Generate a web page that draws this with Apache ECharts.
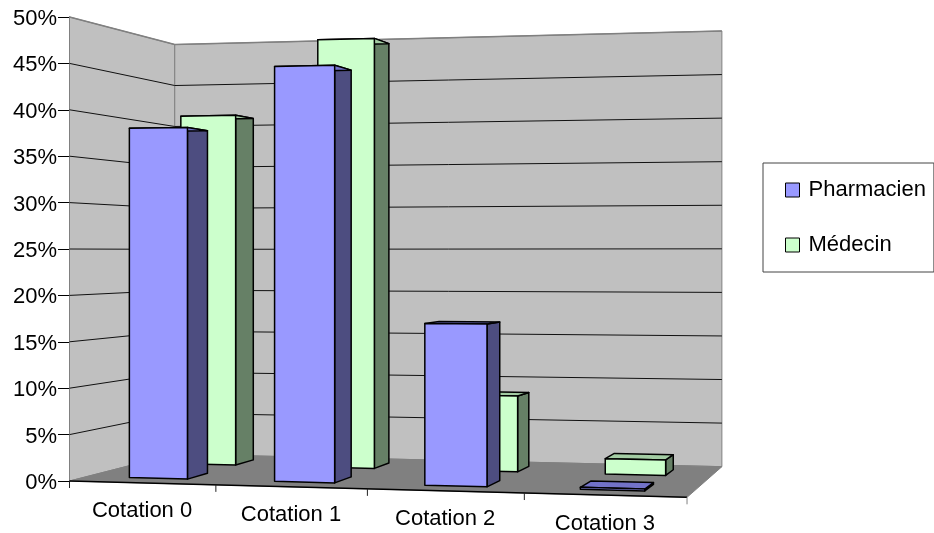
<!DOCTYPE html>
<html>
<head>
<meta charset="utf-8">
<style>
  html, body { margin: 0; padding: 0; background: #fff; }
  #chart { width: 934px; height: 533px; }
</style>
<script src="https://cdn.jsdelivr.net/npm/echarts@6/dist/echarts.min.js"></script>
</head>
<body>
<div id="chart"></div>
<script>
var categories = ['Cotation 0', 'Cotation 1', 'Cotation 2', 'Cotation 3']
var pharmacien = [38.2, 44.6, 17.1, 0.2]
var medecin = [40.5, 49.0, 8.5, 1.7]
var gridValues = [5, 10, 15, 20, 25, 30, 35, 40, 45, 50]

var FONT = '22px "Liberation Sans", Arial, sans-serif'

// camera of the old 3D chart: t along categories, d into the depth, v up (all 0..1)
function project(t, d, v) {
  var w = 1 - 0.068 * t + 0.133 * d
  return [
    (69.5 + 570.8 * t + 128.5 * d) / w,
    (481 - 17.5 * t + 33.5 * d - 464 * v) / w
  ]
}

function poly(points, fill, stroke, width) {
  return {
    type: 'polygon',
    shape: { points: points },
    style: { fill: fill, stroke: stroke, lineWidth: width, lineJoin: 'round' }
  }
}

function polyline(points, stroke, width) {
  return {
    type: 'polyline',
    shape: { points: points },
    style: { fill: null, stroke: stroke, lineWidth: width }
  }
}

// grid pixel -> t and v, so that everything goes through the axes first
function toPlane(params, px, py) {
  var cs = params.coordSys
  return {
    t: (px - cs.x) / cs.width,
    v: (cs.y + cs.height - py) / cs.height
  }
}

function renderWalls(params, api) {
  return {
    type: 'group',
    children: [
      poly([project(0, 0, 0), project(0, 1, 0), project(0, 1, 1), project(0, 0, 1)], '#c0c0c0', '#808080', 1),
      poly([project(0, 1, 0), project(1, 1, 0), project(1, 1, 1), project(0, 1, 1)], '#c0c0c0', '#808080', 1),
      poly([project(0, 0, 0), project(1, 0, 0), project(1, 1, 0), project(0, 1, 0)], '#808080', '#808080', 1)
    ]
  }
}

function renderGridLine(params, api) {
  var p = toPlane(params, 0, api.coord([0, api.value(0)])[1])
  var top = api.value(0) === 50
  return polyline([project(0, 0, p.v), project(0, 1, p.v), project(1, 1, p.v)], top ? '#808080' : '#111', top ? 1.5 : 1)
}

function renderFloorAxis(params, api) {
  var cs = params.coordSys
  var i = api.value(0)
  var band = api.size([1, 0])[0]
  var p = toPlane(params, api.coord([i, 0])[0] - band / 2, cs.y + cs.height)
  var a = project(p.t, 0, 0)
  var children = [polyline([a, [a[0], a[1] + 7]], '#222', 1)]
  if (i === 0) {
    children.push(polyline([project(0, 0, 0), project(1, 0, 0)], '#000', 1.5))
    var end = project(1, 0, 0)
    children.push(polyline([end, [end[0], end[1] + 7]], '#808080', 1))
  }
  var mid = project(p.t + band / cs.width / 2, 0, 0)
  children.push({
    type: 'text',
    style: {
      text: categories[i],
      x: mid[0],
      y: mid[1] + 28.5,
      align: 'center',
      verticalAlign: 'middle',
      font: FONT,
      fill: '#000'
    }
  })
  return { type: 'group', children: children }
}

function barRenderer(d0, d1, front, side, top) {
  return function (params, api) {
    var i = api.value(0)
    var c = api.coord([i, api.value(1)])
    var halfWidth = api.size([1, 0])[0] * 0.202
    var l = toPlane(params, c[0] - halfWidth, c[1])
    var r = toPlane(params, c[0] + halfWidth, c[1])
    var v = l.v
    var t0 = l.t
    var t1 = r.t
    return {
      type: 'group',
      children: [
        poly([project(t1, d0, 0), project(t1, d1, 0), project(t1, d1, v), project(t1, d0, v)], side, '#000', 1.5),
        poly([project(t0, d0, v), project(t1, d0, v), project(t1, d1, v), project(t0, d1, v)], top, '#000', 1.5),
        poly([project(t0, d0, 0), project(t1, d0, 0), project(t1, d0, v), project(t0, d0, v)], front, '#000', 1.5)
      ]
    }
  }
}

var chart = echarts.init(document.getElementById('chart'))
chart.setOption({
  animation: false,
  backgroundColor: '#fff',
  textStyle: { fontFamily: '"Liberation Sans", Arial, sans-serif' },
  grid: { left: 69, top: 17, width: 618, height: 464 },
  legend: {
    left: 763,
    top: 163,
    orient: 'vertical',
    padding: [16, 8, 16, 22],
    backgroundColor: '#fff',
    borderColor: '#444',
    borderWidth: 1,
    borderRadius: 0,
    itemWidth: 14,
    itemHeight: 14,
    itemGap: 33,
    selectedMode: false,
    textStyle: { fontSize: 22, color: '#000', padding: [0, 0, 0, 4] },
    data: [
      { name: 'Pharmacien', icon: 'rect', itemStyle: { color: '#9999ff', borderColor: '#000', borderWidth: 1 } },
      { name: 'Médecin', icon: 'rect', itemStyle: { color: '#ccffcc', borderColor: '#000', borderWidth: 1 } }
    ]
  },
  xAxis: {
    type: 'category',
    data: categories,
    axisLine: { show: false },
    axisTick: { show: false },
    axisLabel: { show: false }
  },
  yAxis: {
    type: 'value',
    min: 0,
    max: 50,
    interval: 5,
    splitLine: { show: false },
    axisLine: { show: true, lineStyle: { color: '#000', width: 1 } },
    axisTick: { show: true, length: 11, lineStyle: { color: '#000', width: 1 } },
    axisLabel: { formatter: '{value}%', fontSize: 22, color: '#000', margin: 12, verticalAlign: 'top', lineHeight: 4 }
  },
  series: [
    { type: 'custom', name: 'walls', z: 1, silent: true, data: [[0, 0]], renderItem: renderWalls },
    {
      type: 'custom',
      name: 'gridlines',
      z: 2,
      silent: true,
      encode: { y: 0 },
      data: gridValues.map(function (v) { return [v] }),
      renderItem: renderGridLine
    },
    {
      type: 'custom',
      name: 'floor',
      z: 2,
      silent: true,
      data: categories.map(function (c, i) { return [i, 0] }),
      renderItem: renderFloorAxis
    },
    {
      type: 'custom',
      name: 'Pharmacien',
      z: 4,
      itemStyle: { color: '#9999ff' },
      data: pharmacien.map(function (v, i) { return [i, v] }),
      renderItem: barRenderer(0.15, 0.35, '#9999ff', '#4d4d80', '#7272c8')
    },
    {
      type: 'custom',
      name: 'Médecin',
      z: 3,
      itemStyle: { color: '#ccffcc' },
      data: medecin.map(function (v, i) { return [i, v] }),
      renderItem: barRenderer(0.65, 0.85, '#ccffcc', '#668066', '#a3cca3')
    }
  ]
})
</script>
</body>
</html>
